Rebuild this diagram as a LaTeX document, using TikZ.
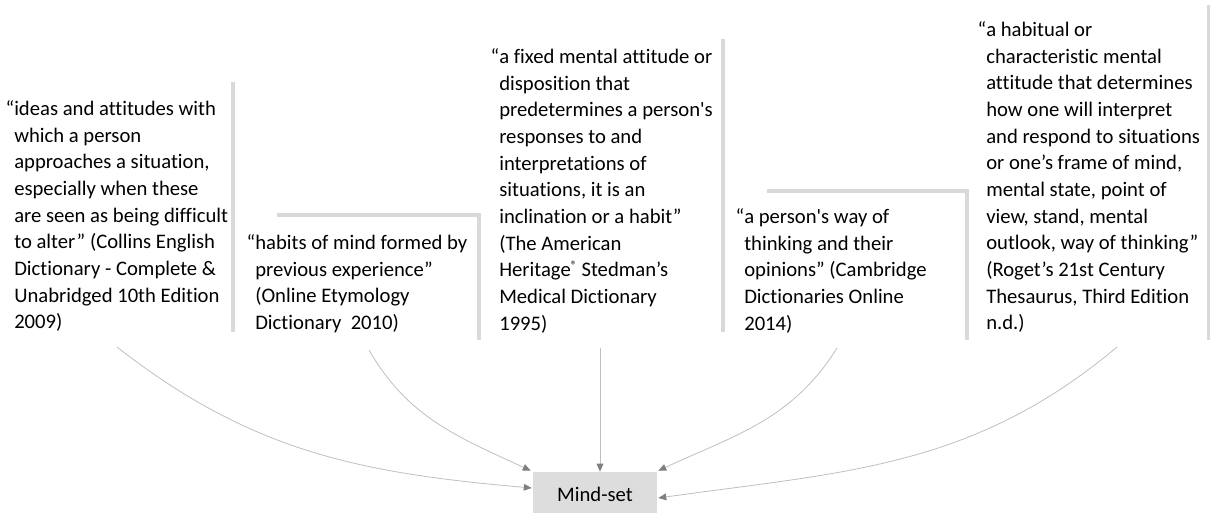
\documentclass[tikz,border=0pt]{standalone}
\usepackage{fontspec}
\newfontfamily\bodyfont{Carlito}[Ligatures=NoCommon]
\usetikzlibrary{arrows.meta,calc}
\definecolor{barc}{HTML}{D9D9D9}
\definecolor{linec}{HTML}{BFBFBF}
\definecolor{tipc}{HTML}{7F7F7F}
\definecolor{boxc}{HTML}{DDDDDD}
\begin{document}
\begin{tikzpicture}[x=0.75pt,y=-0.75pt,
  quote/.style={anchor=north west, inner sep=0pt, align=left,
    font=\bodyfont\fontsize{15.5}{20}\selectfont, text=black},
  bar/.style={draw=barc, line width=3pt},
  link/.style={draw=linec, line width=0.6pt,
    -{Triangle[length=6pt,width=5pt,color=tipc]}},
  target/.style={fill=boxc, inner sep=0pt, minimum width=93pt, minimum height=33pt,
    font=\bodyfont\fontsize{15.5}{20}\selectfont}]
\useasboundingbox (0,0) rectangle (1210,512);

% definition texts
\node[quote] (d1) at (14,96.5) {\strut\llap{“}ideas and attitudes with\\
which a person\\
approaches a situation,\\
especially when these\\
are seen as being difficult\\
to alter\kern1pt” (Collins English\\
Dictionary - Complete \&\\
Unabridged 10th Edition\\
2009)};

\node[quote] (d2) at (255,230.5) {\strut\llap{“}habits of mind formed by\\
previous experience”\\
(Online Etymology\\
Dictionary\ \ 2010)};

\node[quote] (d3) at (499,44.5) {\strut\llap{“}a fixed mental attitude or\\
disposition that\\
predetermines a person's\\
responses to and\\
interpretations of\\
situations, it is an\\
inclination or a habit”\\
(The American\\
Heritage\raisebox{0.35em}{\fontsize{9}{9}\selectfont ®} Stedman’s\\
Medical Dictionary\\
1995)};

\node[quote] (d4) at (744,204.5) {\strut\llap{“}a person's way of\\
thinking and their\\
opinions” (Cambridge\\
Dictionaries Online\\
2014)};

\node[quote] (d5) at (986,17.5) {\strut\llap{“}a habitual or\\
characteristic mental\\
attitude that determines\\
how one will interpret\\
and respond to situations\\
or one’s frame of mind,\\
mental state, point of\\
view, stand, mental\\
outlook, way of thinking”\\
(Roget’s 21st Century\\
Thesaurus, Third Edition\\
n.d.)};

% accent bars
\draw[bar] (233,82) -- (233,332);
\draw[bar] (277,215) -- (479,215) -- (479,340);
\draw[bar] (723,39) -- (723,332);
\draw[bar] (767,191) -- (967,191) -- (967,340);
\draw[bar] (1209,5) -- (1209,340);

% central node
\node[target] (m) at (595,494) {Mind-set};

% connector start points
\coordinate (s1) at (117,347);
\coordinate (s2) at (369,350);
\coordinate (s3) at (600,348);
\coordinate (s4) at (837,348);
\coordinate (s5) at (1117,347);

\draw[link] (s1) to[out=-38,in=175] ($(m.west)+(-1,-6)$);
\draw[link] (s2) to[out=-60,in=155] ($(m.north west)+(-2,-1)$);
\draw[link] (s3) -- ($(m.north)+(5,0)$);
\draw[link] (s4) to[out=-122,in=25] ($(m.north east)+(1,-1)$);
\draw[link] (s5) to[out=-140,in=8] ($(m.east)+(1,4)$);
\end{tikzpicture}
\end{document}
